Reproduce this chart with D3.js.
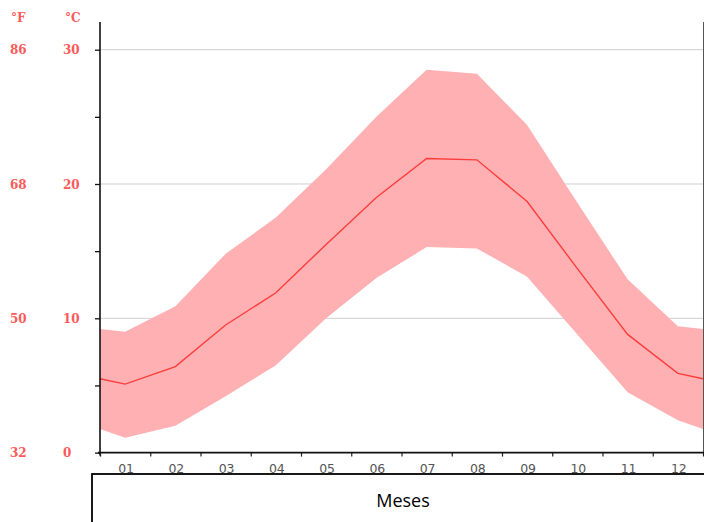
<!DOCTYPE html>
<html>
<head>
<meta charset="utf-8">
<script src="https://cdn.jsdelivr.net/npm/d3@7/dist/d3.min.js"></script>
<style>
  html, body { margin: 0; padding: 0; background: #fff; }
  svg { display: block; }
</style>
</head>
<body>
<svg id="chart" width="704" height="522"></svg>
<script>
// Monthly temperatures (°C)
const months = ["01", "02", "03", "04", "05", "06", "07", "08", "09", "10", "11", "12"];
const meanTemp = [5.1, 6.4, 9.5, 11.9, 15.5, 19.0, 21.9, 21.8, 18.7, 13.7, 8.8, 5.9];
const maxTemp  = [9.0, 10.9, 14.8, 17.5, 21.1, 25.0, 28.5, 28.2, 24.4, 18.6, 12.9, 9.4];
const minTemp  = [1.1, 2.0, 4.2, 6.5, 10.0, 13.0, 15.3, 15.2, 13.1, 8.8, 4.5, 2.4];

const celsiusTicks = [0, 10, 20, 30];
const minorTicks = [5, 15, 25];
const fahrenheitLabels = ["32", "50", "68", "86"];
const axisTitle = "Meses";

const svg = d3.select("#chart");
const plotLeft = 100, plotRight = 703, plotTop = 22, plotBottom = 452.6;

const x = d3.scaleBand().domain(months).range([plotLeft, plotRight]).padding(0);
const y = d3.scaleLinear().domain([0, 30]).range([plotBottom, plotBottom - 30 * 13.43]);

// Wrap the year around: the plot edges take the mid-winter value between December and January
const edge = arr => (arr[0] + arr[arr.length - 1]) / 2;
const rows = [{ px: plotLeft, mean: edge(meanTemp), max: edge(maxTemp), min: edge(minTemp) }]
  .concat(months.map((m, i) => ({ px: x(m) + x.bandwidth() / 2, mean: meanTemp[i], max: maxTemp[i], min: minTemp[i] })))
  .concat([{ px: plotRight, mean: edge(meanTemp), max: edge(maxTemp), min: edge(minTemp) }]);

// Grid lines
svg.append("g").selectAll("line").data(celsiusTicks.filter(d => d > 0)).join("line")
  .attr("x1", plotLeft).attr("x2", plotRight)
  .attr("y1", d => y(d)).attr("y2", d => y(d))
  .attr("stroke", "#cfcfcf").attr("stroke-width", 1);

// Min–max band
svg.append("path").datum(rows)
  .attr("d", d3.area().x(d => d.px).y0(d => y(d.min)).y1(d => y(d.max)))
  .attr("fill", "#ffb0b3");

// Mean line
svg.append("path").datum(rows)
  .attr("d", d3.line().x(d => d.px).y(d => y(d.mean)))
  .attr("fill", "none").attr("stroke", "#ff3c3c").attr("stroke-width", 1.4);

// Right frame edge
svg.append("line").attr("x1", plotRight + 0.5).attr("x2", plotRight + 0.5)
  .attr("y1", plotTop).attr("y2", plotBottom)
  .attr("stroke", "#555").attr("stroke-width", 1);

// Y axis with major and minor ticks
const yAxis = d3.axisLeft(y).tickValues(celsiusTicks.concat(minorTicks)).tickSize(5).tickFormat("");
const gy = svg.append("g").attr("transform", `translate(${plotLeft},0)`).call(yAxis);
gy.select(".domain").remove();
gy.selectAll(".tick line").attr("stroke", "#111").attr("stroke-width", 1.3);
svg.append("line").attr("x1", plotLeft).attr("x2", plotLeft).attr("y1", plotTop).attr("y2", plotBottom + 3)
  .attr("stroke", "#111").attr("stroke-width", 1.6);

// X axis: ticks at month boundaries, labels centred in each month
const xb = d3.scaleLinear().domain([0, 12]).range([plotLeft, plotRight]);
const gx = svg.append("g").attr("transform", `translate(0,${plotBottom})`)
  .call(d3.axisBottom(xb).tickValues(d3.range(0, 13)).tickSize(4).tickFormat(""));
gx.select(".domain").remove();
gx.selectAll(".tick line").attr("stroke", "#222").attr("stroke-width", 1.2);
svg.append("line").attr("x1", plotLeft - 2).attr("x2", plotRight + 1).attr("y1", plotBottom).attr("y2", plotBottom)
  .attr("stroke", "#111").attr("stroke-width", 1.6);
svg.append("g").selectAll("text").data(months).join("text")
  .attr("x", d => x(d) + x.bandwidth() / 2 + 1)
  .attr("y", plotBottom + 20)
  .attr("text-anchor", "middle")
  .attr("font-family", "DejaVu Sans, sans-serif")
  .attr("font-size", 12.5)
  .attr("fill", "#555")
  .text(d => d);

// Temperature scale labels (°F and °C)
const labelStyle = sel => sel
  .attr("font-family", "DejaVu Serif, serif")
  .attr("font-weight", "bold")
  .attr("font-size", 12)
  .attr("fill", "#ff5a5a");

svg.append("g").selectAll("text").data(celsiusTicks).join("text")
  .attr("x", 63).attr("y", d => y(d) + 4.5).text(d => d).call(labelStyle);
svg.append("g").selectAll("text").data(fahrenheitLabels).join("text")
  .attr("x", 10).attr("y", (d, i) => y(celsiusTicks[i]) + 4.5).text(d => d).call(labelStyle);
svg.append("text").attr("x", 11).attr("y", 22).text("°F").call(labelStyle);
svg.append("text").attr("x", 65).attr("y", 22).text("°C").call(labelStyle);

// Axis title box
svg.append("rect").attr("x", 92).attr("y", 474).attr("width", 640).attr("height", 80)
  .attr("fill", "#fff").attr("stroke", "#000").attr("stroke-width", 1.8);
svg.append("text").attr("x", 403).attr("y", 507)
  .attr("text-anchor", "middle")
  .attr("font-family", "Open Sans, sans-serif")
  .attr("font-size", 18)
  .attr("fill", "#000")
  .text(axisTitle);
</script>
</body>
</html>
